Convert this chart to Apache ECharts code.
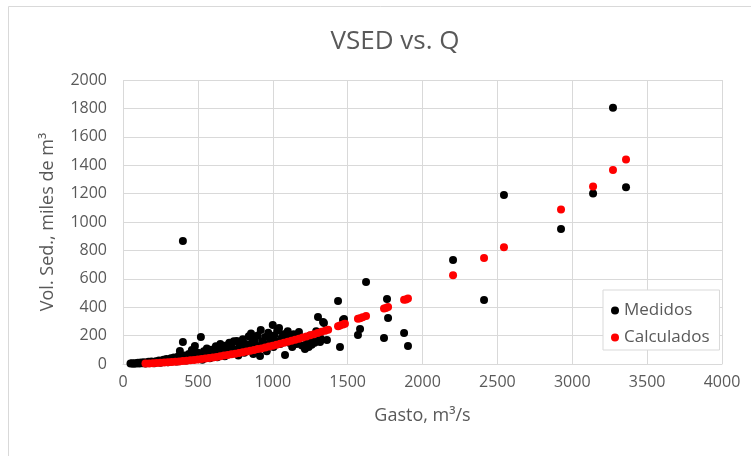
<!DOCTYPE html>
<html>
<head>
<meta charset="utf-8">
<script src="https://cdn.jsdelivr.net/npm/echarts@6/dist/echarts.min.js"></script>
<style>
  html, body { margin: 0; padding: 0; background: #fff; }
  #chart { width: 751px; height: 456px; }
</style>
</head>
<body>
<div id="chart"></div>
<script>
// Medidos (Gasto m3/s, Vol. Sed. miles de m3)
const gastoMedidos = [50, 60, 70, 80, 90, 100, 110, 120, 130, 140, 150, 160, 170, 180, 190, 200, 210, 220, 230, 240,
  250, 260, 270, 280, 290, 300, 310, 320, 330, 340, 350, 360, 370, 380, 390, 400, 400, 410, 420, 430,
  440, 450, 460, 470, 480, 490, 500, 510, 520, 530, 540, 550, 560, 570, 580, 590, 600, 610, 620, 630,
  640, 650, 660, 670, 680, 690, 700, 710, 720, 730, 740, 750, 760, 770, 780, 790, 800, 810, 820, 830,
  840, 850, 855, 860, 870, 880, 890, 900, 910, 915, 920, 930, 940, 950, 960, 970, 980, 990, 1000, 1005,
  1010, 1020, 1030, 1042, 1050, 1060, 1070, 1082, 1090, 1100, 1110, 1120, 1130, 1140, 1150, 1160, 1175, 1185, 1195, 1215,
  1230, 1240, 1250, 1260, 1270, 1280, 1290, 1300, 1302, 1316, 1320, 1336, 1342, 1362, 1436, 1449, 1469, 1476, 1569, 1583,
  1623, 1743, 1763, 1770, 1877, 1903, 2204, 2411, 2544, 2925, 3139, 3272, 3359];
const volMedidos = [3, 5, 2, 6, 4, 8, 3, 10, 6, 12, 4, 9, 15, 7, 18, 11, 5, 20, 14, 25,
  9, 22, 30, 16, 35, 12, 28, 40, 20, 45, 33, 18, 55, 92, 38, 155, 866, 60, 25, 48,
  70, 35, 99, 58, 127, 42, 80, 65, 190, 30, 90, 55, 110, 72, 40, 100, 85, 60, 125, 48,
  95, 140, 75, 110, 55, 130, 90, 150, 70, 115, 160, 95, 162, 60, 130, 105, 175, 80, 140, 120,
  195, 100, 215, 150, 70, 170, 130, 200, 110, 56, 240, 160, 135, 190, 90, 220, 150, 175, 275, 120,
  200, 160, 235, 253, 140, 185, 210, 63, 170, 230, 150, 195, 120, 210, 175, 140, 225, 190, 130, 106,
  160, 120, 200, 135, 180, 150, 230, 165, 331, 155, 180, 296, 289, 169, 444, 120, 310, 317, 204, 246,
  577, 183, 458, 324, 218, 127, 732, 450, 1190, 950, 1200, 1805, 1245];

// Calculados
const gastoCalc = [150, 175, 200, 225, 250, 275, 300, 325, 350, 375, 400, 425, 450, 475, 500, 525, 550, 575, 600, 625,
  650, 675, 700, 725, 750, 775, 800, 825, 850, 875, 900, 925, 950, 975, 1000, 1025, 1050, 1075, 1100, 1125,
  1150, 1175, 1200, 1225, 1250, 1275, 1300, 1325, 1350, 1370, 1436, 1449, 1469, 1482, 1569, 1583, 1600, 1623, 1743, 1756,
  1770, 1877, 1890, 1903, 2204, 2411, 2544, 2925, 3139, 3272, 3359];
const volCalc = [3, 4, 5, 6.5, 8, 10, 12, 14, 16, 18, 21, 23, 26, 29, 32, 36, 39, 43, 46, 50,
  55, 59, 63, 68, 73, 78, 83, 88, 93, 99, 105, 110, 116, 123, 129, 136, 142, 149, 156, 163,
  171, 178, 186, 194, 202, 210, 218, 227, 235, 242, 266, 271, 278, 283, 318, 323, 330, 338, 390, 395,
  401, 452, 455, 462, 625, 746, 822, 1088, 1250, 1366, 1440];

const medidos = gastoMedidos.map((q, i) => [q, volMedidos[i]]);
const calculados = gastoCalc.map((q, i) => [q, volCalc[i]]);

const txt = '#595959';
const gridCol = '#d9d9d9';
const fontFam = 'Open Sans, Noto Sans, sans-serif';

const myChart = echarts.init(document.getElementById('chart'));
myChart.setOption({
  animation: false,
  backgroundColor: '#fff',
  title: {
    text: 'VSED vs. Q',
    left: 390,
    top: 24,
    textAlign: 'center',
    textStyle: { color: txt, fontSize: 26, fontWeight: 'normal', fontFamily: fontFam }
  },
  graphic: [{
    type: 'rect',
    shape: { x: 8.5, y: 6.5, width: 800, height: 500 },
    style: { fill: 'none', stroke: gridCol, lineWidth: 1 },
    silent: true
  }],
  legend: {
    orient: 'vertical',
    left: 603,
    top: 290,
    padding: [12, 10, 4, 8],
    itemGap: 10,
    itemWidth: 8,
    itemHeight: 8,
    borderColor: gridCol,
    borderWidth: 1,
    backgroundColor: '#fff',
    textStyle: { color: txt, fontSize: 17, fontFamily: fontFam },
    data: [{ name: 'Medidos', icon: 'circle' }, { name: 'Calculados', icon: 'circle' }]
  },
  grid: { left: 123, right: 29, top: 80, bottom: 92 },
  xAxis: {
    type: 'value',
    min: 0, max: 4000, interval: 500,
    name: 'Gasto, m³/s',
    nameLocation: 'middle',
    nameGap: 43,
    nameTextStyle: { color: txt, fontSize: 18, fontFamily: fontFam },
    axisLine: { show: true, lineStyle: { color: gridCol } },
    axisTick: { show: false },
    axisLabel: { color: txt, fontSize: 16, margin: 10, fontFamily: fontFam, formatter: v => String(v) },
    splitLine: { show: true, lineStyle: { color: gridCol } }
  },
  yAxis: {
    type: 'value',
    min: 0, max: 2000, interval: 200,
    name: 'Vol. Sed., miles de m³',
    nameLocation: 'middle',
    nameGap: 66,
    nameTextStyle: { color: txt, fontSize: 18, fontFamily: fontFam },
    axisLine: { show: false },
    axisTick: { show: false },
    axisLabel: { color: txt, fontSize: 16, margin: 16, fontFamily: fontFam, formatter: v => String(v) },
    splitLine: { show: true, lineStyle: { color: gridCol } }
  },
  series: [
    {
      name: 'Medidos',
      type: 'scatter',
      symbol: 'circle',
      symbolSize: 8,
      itemStyle: { color: '#000', opacity: 1 },
      data: medidos
    },
    {
      name: 'Calculados',
      type: 'scatter',
      symbol: 'circle',
      symbolSize: 8,
      itemStyle: { color: '#ff0000', opacity: 1 },
      data: calculados
    }
  ]
});
</script>
</body>
</html>
